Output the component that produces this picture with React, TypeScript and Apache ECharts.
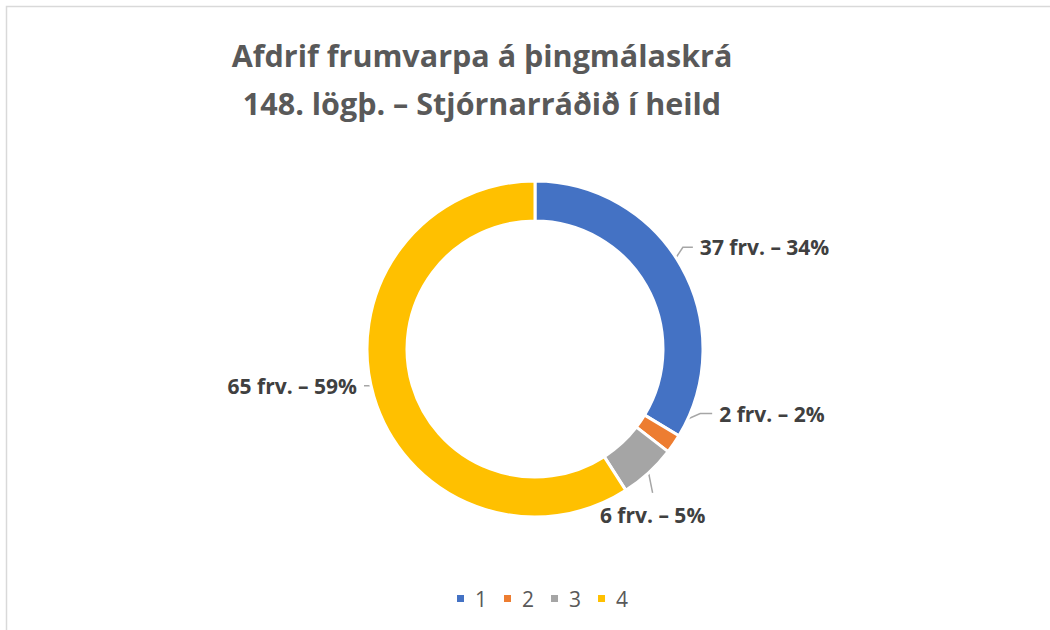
import React, { useEffect, useRef } from "react";
import * as echarts from "echarts";

const categories = ["1", "2", "3", "4"];
const counts = [37, 2, 6, 65];
const colors = ["#4472C4", "#ED7D31", "#A5A5A5", "#FFC000"];
const titleLines = ["Afdrif frumvarpa á þingmálaskrá", "148. lögþ. – Stjórnarráðið í heild"];

// label leader layout (style only): start radius, elbow offset, horizontal length, label gap
const leader = [
  { r: 148, ex: 19, ey: -29, h: 10, gap: 7, align: "left", va: "middle" },
  { r: 148, ex: 43, ey: -19, h: 12, gap: 7, align: "left", va: "middle" },
  { r: 168, ex: 4, ey: 20, h: 0, gap: 12, align: "center", va: "top" },
  { r: 148, ex: -15, ey: -5, h: -14, gap: 7, align: "right", va: "middle" },
];

const CX = 535;
const CY = 349;
const FONT = "'Open Sans', Lato, sans-serif";

export default function App() {
  const ref = useRef<HTMLDivElement>(null);
  useEffect(() => {
    if (!ref.current) return;
    const chart = echarts.init(ref.current, undefined, { renderer: "svg" });
    const total = counts.reduce((a, b) => a + b, 0);
    const midDir = (i: number) => {
      let before = 0;
      for (let k = 0; k < i; k++) before += counts[k];
      const a = ((before + counts[i] / 2) / total) * Math.PI * 2;
      return [Math.sin(a), -Math.cos(a)];
    };
    chart.setOption({
      animation: false,
      backgroundColor: "#ffffff",
      color: colors,
      graphic: [
        {
          type: "rect",
          silent: true,
          z: -10,
          shape: { x: 6.5, y: 6.5, width: 1200, height: 800 },
          style: { fill: "none", stroke: "#D9D9D9", lineWidth: 1.5 },
        },
        ...titleLines.map((t, i) => ({
          type: "text",
          x: 482,
          y: 55 + i * 48,
          style: {
            text: t,
            font: `bold 30.5px ${FONT}`,
            fill: "#595959",
            align: "center",
            verticalAlign: "middle",
          },
        })),
      ],
      legend: {
        data: categories,
        left: 450,
        top: 583,
        icon: "rect",
        itemWidth: 9,
        itemHeight: 9,
        itemGap: 15,
        textStyle: {
          fontFamily: FONT,
          fontSize: 21,
          color: "#595959",
          padding: [0, 0, 0, 5],
        },
      },
      series: [
        {
          type: "pie",
          center: [CX, CY],
          radius: [128, 168],
          startAngle: 90,
          clockwise: true,
          percentPrecision: 0,
          avoidLabelOverlap: false,
          itemStyle: { borderColor: "#ffffff", borderWidth: 3 },
          label: {
            show: true,
            position: "outside",
            formatter: (p: any) => `${p.value} frv. – ${p.percent}%`,
            fontFamily: FONT,
            fontWeight: "bold",
            fontSize: 21,
            color: "#404040",
          },
          labelLine: {
            show: true,
            length: 10,
            length2: 10,
            lineStyle: { color: "#A6A6A6", width: 1.5 },
          },
          labelLayout: (params: any) => {
            const i = params.dataIndex;
            const L = leader[i];
            const [dx, dy] = midDir(i);
            const sx = CX + dx * L.r;
            const sy = CY + dy * L.r;
            const ex = sx + L.ex;
            const ey = sy + L.ey;
            const fx = ex + L.h;
            const fy = ey;
            let lx = fx;
            let ly = fy;
            if (L.va === "top") ly = fy + L.gap;
            else lx = fx + (L.h < 0 ? -L.gap : L.gap);
            return {
              x: lx,
              y: ly,
              align: L.align,
              verticalAlign: L.va,
              labelLinePoints: [
                [sx, sy],
                [ex, ey],
                [fx, fy],
              ],
            };
          },
          data: categories.map((c, i) => ({ name: c, value: counts[i] })),
        },
      ],
    });
    return () => chart.dispose();
  }, []);
  return (
    <div
      ref={ref}
      style={{ position: "fixed", left: 0, top: 0, width: 1050, height: 630 }}
    />
  );
}
